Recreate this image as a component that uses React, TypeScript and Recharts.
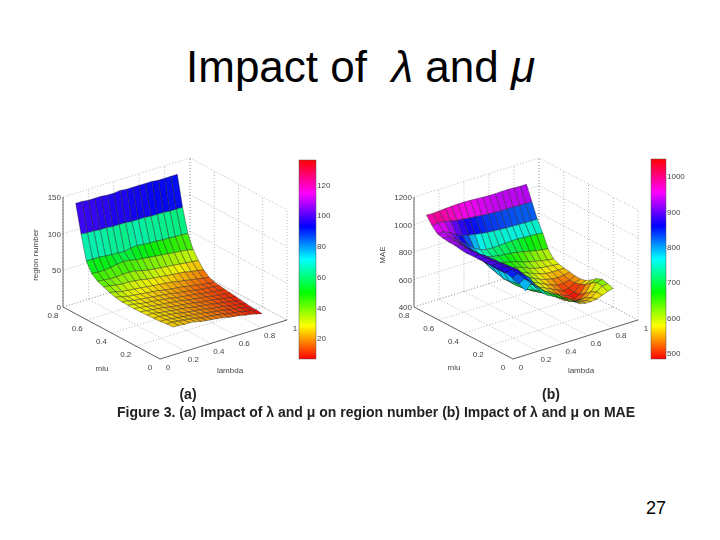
import { ScatterChart, Scatter, XAxis, YAxis, ReferenceLine, ReferenceArea } from "recharts";

// each row runs from lambdaStart[row] up to LAMBDA_END, rows run from mu 0.8 down to MU_END
const lambdaStart = [0.1, 0.1, 0.1, 0.1, 0.105, 0.11, 0.115, 0.12, 0.13, 0.135, 0.14, 0.15, 0.16, 0.17, 0.18, 0.19, 0.2];
const LAMBDA_END = 0.9;
const MU_TOP = 0.8;
const MU_END = 0.1;

const regionNumber = [
  [136, 136, 135, 135, 135, 134, 134, 135, 134, 134, 134, 134, 134, 133, 133, 133, 133],
  [98, 97, 97, 96, 96, 95, 95, 95, 94, 94, 94, 93, 93, 93, 92, 92, 92],
  [65, 65, 65, 64, 63, 63, 62, 64, 65, 64, 63, 63, 62, 62, 61, 61, 60],
  [52, 51, 51, 52, 54, 55, 54, 52, 51, 50, 49, 48, 47, 46, 45, 44, 42],
  [45, 44, 43, 43, 44, 44, 43, 41, 39, 38, 37, 36, 35, 34, 33, 32, 31],
  [41, 40, 38, 37, 37, 36, 35, 33, 32, 31, 30, 29, 28, 27, 25, 24, 22],
  [37, 35, 33, 32, 31, 30, 29, 28, 27, 26, 25, 23, 22, 20, 19, 17, 16],
  [34, 32, 30, 29, 28, 27, 26, 25, 23, 22, 21, 20, 18, 17, 15, 14, 13],
  [31, 30, 28, 27, 26, 25, 24, 23, 22, 20, 19, 18, 16, 15, 14, 13, 12],
  [30, 29, 27, 26, 25, 24, 23, 22, 20, 19, 18, 17, 15, 14, 13, 12, 11],
  [29, 28, 27, 25, 24, 23, 22, 21, 20, 18, 17, 16, 15, 13, 12, 11, 10],
  [28, 27, 26, 25, 24, 22, 21, 20, 19, 18, 16, 15, 14, 13, 11, 10, 9],
  [27, 27, 25, 24, 23, 22, 21, 20, 18, 17, 16, 15, 13, 12, 11, 9, 8],
  [26, 26, 25, 24, 23, 21, 20, 19, 18, 17, 15, 14, 13, 11, 10, 9, 7],
  [25, 25, 24, 23, 22, 21, 20, 19, 18, 16, 15, 14, 12, 11, 10, 8, 6],
  [25, 25, 24, 23, 22, 21, 19, 18, 17, 16, 15, 13, 12, 11, 9, 8, 6],
  [24, 24, 23, 23, 22, 20, 19, 18, 17, 16, 14, 13, 12, 10, 9, 7, 5],
];

const mae = [
  [1040, 1038, 1042, 1045, 1048, 1050, 1050, 1048, 1045, 1042, 1040, 1040, 1042, 1042, 1040, 1038, 1038],
  [985, 990, 985, 975, 965, 960, 955, 950, 945, 940, 938, 935, 935, 935, 932, 930, 930],
  [945, 945, 925, 895, 875, 865, 855, 848, 842, 838, 835, 832, 830, 828, 826, 825, 825],
  [935, 930, 900, 865, 830, 790, 765, 752, 750, 752, 755, 758, 758, 755, 752, 750, 745],
  [925, 920, 885, 840, 800, 760, 735, 722, 712, 708, 702, 695, 685, 675, 665, 658, 650],
  [920, 910, 875, 815, 775, 735, 710, 695, 685, 675, 660, 645, 632, 622, 612, 604, 598],
  [908, 905, 870, 805, 755, 710, 690, 675, 665, 655, 640, 620, 605, 595, 590, 585, 580],
  [900, 900, 870, 795, 735, 695, 670, 655, 645, 635, 620, 600, 585, 575, 572, 572, 572],
  [895, 895, 872, 785, 715, 680, 655, 640, 630, 620, 600, 580, 565, 555, 550, 555, 565],
  [892, 892, 872, 780, 700, 665, 640, 625, 620, 605, 585, 565, 545, 530, 530, 540, 557],
  [890, 890, 872, 780, 700, 660, 635, 620, 610, 590, 570, 550, 530, 510, 515, 540, 555],
  [888, 888, 872, 785, 705, 660, 635, 615, 600, 580, 560, 535, 510, 495, 505, 550, 565],
  [882, 885, 870, 795, 715, 665, 640, 620, 600, 575, 550, 525, 500, 490, 510, 570, 590],
  [872, 880, 868, 810, 735, 680, 650, 630, 605, 575, 545, 525, 510, 505, 540, 600, 620],
  [850, 870, 850, 815, 750, 695, 660, 640, 615, 585, 555, 540, 535, 540, 570, 625, 635],
  [825, 850, 815, 770, 735, 700, 675, 655, 625, 600, 570, 555, 550, 560, 590, 620, 625],
  [790, 836, 785, 740, 710, 690, 670, 650, 620, 600, 575, 565, 565, 570, 585, 600, 611],
];

const lambdaTicks = [0, 0.2, 0.4, 0.6, 0.8, 1];
const muTicks = [0, 0.2, 0.4, 0.6, 0.8];
const regionTicks = [0, 50, 100, 150];
const maeTicks = [400, 600, 800, 1000, 1200];
const regionBarTicks = [20, 40, 60, 80, 100, 120];
const maeBarTicks = [500, 600, 700, 800, 900, 1000];

interface Panel {
  id: string;
  values: number[][];
  zTicks: number[];
  barTicks: number[];
  zLabel: string;
  zMin: number;
  zMax: number;
  colorMin: number;
  colorMax: number;
  front: [number, number];
  lambdaDir: [number, number];
  muDir: [number, number];
  height: number;
  bar: [number, number, number, number];
  zLabelX: number;
  muLabel: [number, number];
  lambdaLabel: [number, number];
}

const panels: Panel[] = [
  {
    id: "a", values: regionNumber, zTicks: regionTicks, barTicks: regionBarTicks, zLabel: "region number",
    zMin: 0, zMax: 150, colorMin: 6.5, colorMax: 136,
    front: [160, 359], lambdaDir: [127, -39], muDir: [-97, -52], height: 110,
    bar: [299, 316, 160, 359], zLabelX: 38, muLabel: [102, 368], lambdaLabel: [230, 370],
  },
  {
    id: "b", values: mae, zTicks: maeTicks, barTicks: maeBarTicks, zLabel: "MAE",
    zMin: 400, zMax: 1200, colorMin: 483, colorMax: 1049,
    front: [513, 359], lambdaDir: [125, -39], muDir: [-99, -52], height: 110,
    bar: [651, 666, 159, 359], zLabelX: 385, muLabel: [454, 367], lambdaLabel: [581, 370],
  },
];

// fixed 3-D view, same orthographic projection for both plots
function project(p: Panel, lambda: number, mu: number, z: number): [number, number] {
  const m = mu / MU_TOP;
  const up = ((z - p.zMin) / (p.zMax - p.zMin)) * p.height;
  return [
    p.front[0] + lambda * p.lambdaDir[0] + m * p.muDir[0],
    p.front[1] + lambda * p.lambdaDir[1] + m * p.muDir[1] - up,
  ];
}

function colorOf(p: Panel, z: number) {
  const t = Math.min(1, Math.max(0, (z - p.colorMin) / (p.colorMax - p.colorMin)));
  return `hsl(${Math.round(t * 360)},95%,48%)`;
}

function buildFacets(p: Panel) {
  const rows = p.values.length;
  const cols = p.values[0].length;
  const muAt = (r: number) => MU_TOP - (r / (rows - 1)) * (MU_TOP - MU_END);
  const lambdaAt = (r: number, c: number) => lambdaStart[r] + (c / (cols - 1)) * (LAMBDA_END - lambdaStart[r]);
  const facets = [];
  // back to front so nearer facets paint over farther ones
  for (let r = 0; r < rows - 1; r++) {
    for (let c = cols - 2; c >= 0; c--) {
      const corners = [
        [r, c],
        [r, c + 1],
        [r + 1, c + 1],
        [r + 1, c],
      ].map(([i, j]) => project(p, lambdaAt(i, j), muAt(i), p.values[i][j]));
      const x = corners.reduce((s, q) => s + q[0], 0) / 4;
      const y = corners.reduce((s, q) => s + q[1], 0) / 4;
      facets.push({
        x,
        y,
        offsets: corners.map((q) => [q[0] - x, q[1] - y]),
        fill: colorOf(p, p.values[r + 1][c]),
      });
    }
  }
  return facets;
}

function buildLabels(p: Panel) {
  const labels: any[] = [];
  p.zTicks.forEach((t) => {
    const [x, y] = project(p, 0, MU_TOP, t);
    labels.push({ x: x - 2, y: y + 3, text: String(t), anchor: "end" });
  });
  muTicks.forEach((t) => {
    const [x, y] = project(p, 0, t, p.zMin);
    labels.push({ x: x - 10, y: y + 10.5, text: t === 0 ? "0" : t.toFixed(1), anchor: "middle" });
  });
  lambdaTicks.forEach((t) => {
    const [x, y] = project(p, t, 0, p.zMin);
    labels.push({ x: x + 8, y: y + 10.5, text: t === 0 || t === 1 ? String(t) : t.toFixed(1), anchor: "middle" });
  });
  const barScale = (v: number) =>
    p.bar[3] - ((v - p.colorMin) / (p.colorMax - p.colorMin)) * (p.bar[3] - p.bar[2]);
  p.barTicks.forEach((t) => {
    labels.push({ x: p.bar[1] + 1, y: barScale(t) + 3, text: String(t), anchor: "start" });
  });
  labels.push({ x: p.muLabel[0], y: p.muLabel[1] + 3, text: "miu", anchor: "middle" });
  labels.push({ x: p.lambdaLabel[0], y: p.lambdaLabel[1] + 3, text: "lambda", anchor: "middle" });
  labels.push({ x: p.zLabelX, y: 255, text: p.zLabel, anchor: "middle", rotate: true });
  return labels;
}

function buildGrid(p: Panel) {
  const lines: { a: [number, number]; b: [number, number]; solid?: boolean }[] = [];
  lambdaTicks.forEach((t) => {
    lines.push({ a: project(p, t, 0, p.zMin), b: project(p, t, MU_TOP, p.zMin) });
    lines.push({ a: project(p, t, MU_TOP, p.zMin), b: project(p, t, MU_TOP, p.zMax) });
  });
  muTicks.forEach((t) => {
    lines.push({ a: project(p, 0, t, p.zMin), b: project(p, 1, t, p.zMin) });
    lines.push({ a: project(p, 1, t, p.zMin), b: project(p, 1, t, p.zMax) });
  });
  p.zTicks.forEach((t) => {
    lines.push({ a: project(p, 0, MU_TOP, t), b: project(p, 1, MU_TOP, t) });
    lines.push({ a: project(p, 1, MU_TOP, t), b: project(p, 1, 0, t) });
  });
  lines.push({ a: project(p, 0, MU_TOP, p.zMin), b: project(p, 0, MU_TOP, p.zMax), solid: true });
  lines.push({ a: project(p, 0, MU_TOP, p.zMin), b: project(p, 0, 0, p.zMin), solid: true });
  lines.push({ a: project(p, 0, 0, p.zMin), b: project(p, 1, 0, p.zMin), solid: true });
  return lines;
}

function FacetShape(props: any) {
  const { cx, cy, payload } = props;
  const points = payload.offsets.map((o: number[]) => `${cx + o[0]},${cy + o[1]}`).join(" ");
  return <polygon points={points} fill={payload.fill} stroke="#1c1c1c" strokeWidth={0.55} strokeOpacity={0.7} strokeLinejoin="round" />;
}

function LabelShape(props: any) {
  const { cx, cy, payload } = props;
  return (
    <text
      x={cx}
      y={cy}
      textAnchor={payload.anchor}
      fontSize={8}
      fontFamily="Liberation Sans"
      fill="#444"
      transform={payload.rotate ? `rotate(-90 ${cx} ${cy})` : undefined}
    >
      {payload.text}
    </text>
  );
}

function CaptionShape(props: any) {
  const { cx, cy, payload } = props;
  return (
    <text x={cx} y={cy} textAnchor={payload.anchor} fontSize={14} fontWeight="bold" fontFamily="Liberation Sans" fill="#222">
      {payload.text}
    </text>
  );
}

const captions = [
  { x: 188, y: 399, text: "(a)", anchor: "middle" },
  { x: 551, y: 399, text: "(b)", anchor: "middle" },
  { x: 117, y: 417, text: "Figure 3. (a) Impact of λ and μ on region number (b) Impact of λ and μ on MAE", anchor: "start" },
];

export default function App() {
  return (
    <div style={{ position: "absolute", left: 0, top: 0, width: 720, height: 540, background: "#fff", overflow: "hidden" }}>
      <div style={{ filter: "blur(0.5px)" }}>
        <ScatterChart width={720} height={540} margin={{ top: 0, right: 0, bottom: 0, left: 0 }}>
          <defs>
            {panels.map((p) => (
              <linearGradient key={p.id} id={`bar-${p.id}`} x1="0" y1="1" x2="0" y2="0">
                {[0, 60, 120, 180, 240, 300, 360].map((h) => (
                  <stop key={h} offset={h / 360} stopColor={`hsl(${h},100%,50%)`} />
                ))}
              </linearGradient>
            ))}
          </defs>
          <XAxis type="number" dataKey="x" domain={[0, 720]} hide />
          <YAxis type="number" dataKey="y" domain={[0, 540]} reversed hide />
          {panels.flatMap((p) =>
            buildGrid(p).map((l, i) => (
              <ReferenceLine
                key={`${p.id}-${i}`}
                segment={[
                  { x: l.a[0], y: l.a[1] },
                  { x: l.b[0], y: l.b[1] },
                ]}
                stroke={l.solid ? "#666" : "#999"}
                strokeWidth={l.solid ? 1 : 0.7}
                strokeDasharray={l.solid ? undefined : "1 2"}
                ifOverflow="visible"
              />
            ))
          )}
          {panels.map((p) => (
            <ReferenceArea
              key={`area-${p.id}`}
              x1={p.bar[0]}
              x2={p.bar[1]}
              y1={p.bar[2]}
              y2={p.bar[3]}
              fill={`url(#bar-${p.id})`}
              fillOpacity={1}
              stroke="#555"
              strokeWidth={0.5}
            />
          ))}
          {panels.map((p) => (
            <Scatter key={`surface-${p.id}`} data={buildFacets(p)} shape={FacetShape} isAnimationActive={false} />
          ))}
          {panels.map((p) => (
            <Scatter key={`labels-${p.id}`} data={buildLabels(p)} shape={LabelShape} isAnimationActive={false} />
          ))}
          <Scatter data={captions} shape={CaptionShape} isAnimationActive={false} />
        </ScatterChart>
      </div>
      <div style={{ position: "absolute", left: 186, top: 42, fontFamily: "Liberation Sans", fontSize: 44, lineHeight: "50px", color: "#000", whiteSpace: "pre" }}>
        Impact of  <i>λ</i> and <i>μ</i>
      </div>
      <div style={{ position: "absolute", left: 646, top: 498, fontFamily: "Liberation Sans", fontSize: 18, lineHeight: "20px", color: "#000" }}>27</div>
    </div>
  );
}
